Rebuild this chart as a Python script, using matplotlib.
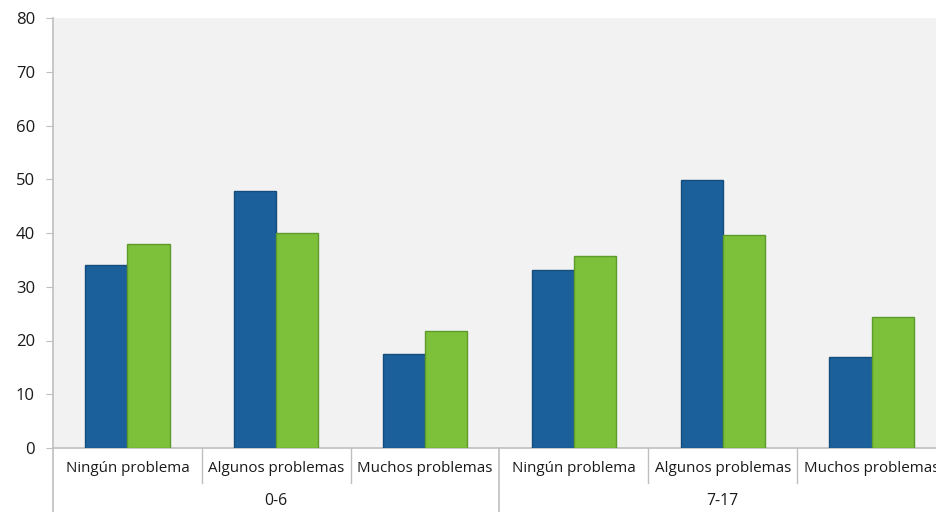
import matplotlib.pyplot as plt
import matplotlib.transforms as mtransforms
import numpy as np

plt.rcParams['font.family'] = ['Open Sans', 'DejaVu Sans']

categories = ['Ningún problema', 'Algunos problemas', 'Muchos problemas',
              'Ningún problema', 'Algunos problemas', 'Muchos problemas']
groups = ['0-6', '7-17']
serie_azul = [34.0, 47.9, 17.5, 33.2, 49.8, 16.9]
serie_verde = [37.9, 40.0, 21.8, 35.8, 39.6, 24.3]

fig = plt.figure(figsize=(9.37, 5.12), dpi=100)
# plot area runs a little past the right edge, as in the original
ax = fig.add_axes([53/937, 64/512, 893/937, 430/512])
ax.set_facecolor('#F2F2F2')

x = np.arange(len(categories))
w = 0.283
ax.bar(x - w/2, serie_azul, w, color='#1B609A', edgecolor='#164C7C', linewidth=1, zorder=3)
ax.bar(x + w/2, serie_verde, w, color='#7DC13A', edgecolor='#5E9A2C', linewidth=1, zorder=3)

ax.set_xlim(-0.5, len(categories) - 0.5)
ax.set_ylim(0, 80)
ax.set_yticks(range(0, 81, 10))
ax.tick_params(axis='y', length=5, color='#BFBFBF', labelsize=12, pad=8, labelcolor='#1a1a1a')
ax.tick_params(axis='x', length=0)
ax.set_xticks([])
for s in ['top', 'right']:
    ax.spines[s].set_visible(False)
for s in ['left', 'bottom']:
    ax.spines[s].set_color('#BFBFBF')
    ax.spines[s].set_linewidth(1.2)

trans = mtransforms.blended_transform_factory(ax.transData, ax.transAxes)
px = 1 / 430
# category labels
for i, c in enumerate(categories):
    ax.text(i, -20 * px, c, transform=trans, ha='center', va='center', fontsize=10.9, color='#1a1a1a')
# separators between categories
for i in range(1, len(categories)):
    if i % 3 == 0:
        continue
    ax.plot([i - 0.5, i - 0.5], [0, -35 * px], transform=trans, color='#BFBFBF', lw=1, clip_on=False)
# group labels and group separators
n = len(categories) // len(groups)
for g, name in enumerate(groups):
    ax.text(g * n + (n - 1) / 2, -53 * px, name, transform=trans, ha='center', va='center', fontsize=11.3, color='#1a1a1a')
for g in range(len(groups) + 1):
    ax.plot([g * n - 0.5, g * n - 0.5], [0, -64 * px], transform=trans, color='#BFBFBF', lw=1.2, clip_on=False)

fig.savefig('out.png', dpi=100)
